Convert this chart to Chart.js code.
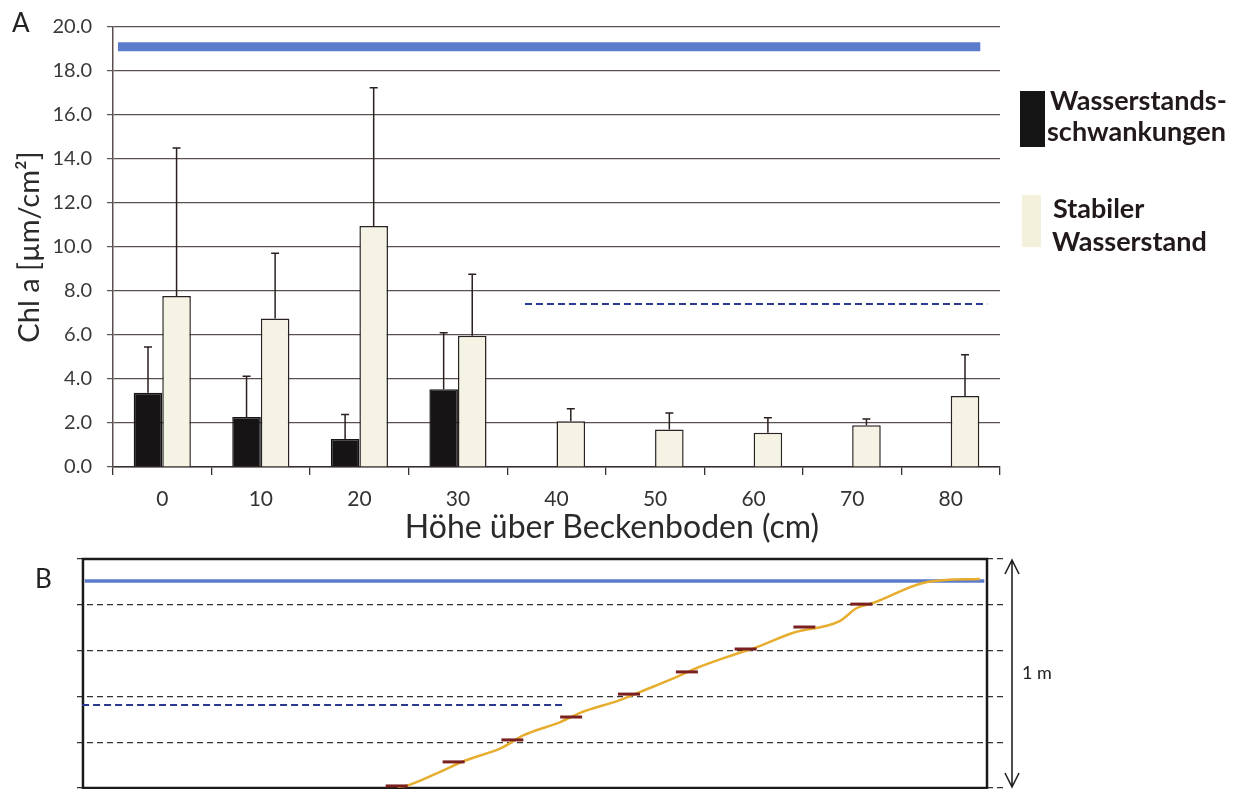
<!DOCTYPE html>
<html><head><meta charset="utf-8">
<script src="https://cdn.jsdelivr.net/npm/chart.js@4.4.1/dist/chart.umd.min.js"></script>
<style>
html,body{margin:0;padding:0;background:#fff;overflow:hidden}
#wrap{position:relative;width:1247px;height:789px;background:#fff}
canvas{position:absolute;left:0}
</style></head><body>
<div id="wrap">
<canvas id="ca" width="1247" height="545" style="top:0"></canvas>
<canvas id="cb" width="1247" height="244" style="top:545px"></canvas>
</div>
<script>
// ---------- Panel A data ----------
const categories = ['0','10','20','30','40','50','60','70','80'];
const fluctMean  = [3.38, 2.27, 1.27, 3.53, null, null, null, null, null];
const fluctSd    = [2.07, 1.86, 1.12, 2.57, null, null, null, null, null];
const stableMean = [7.77, 6.75, 10.95, 5.97, 2.08, 1.70, 1.56, 1.90, 3.23];
const stableSd   = [6.73, 2.97, 6.29, 2.79, 0.57, 0.75, 0.68, 0.28, 1.87];
const seriesNames = ['Wasserstands-|schwankungen', 'Stabiler|Wasserstand'];
// reference lines in panel A (x in category widths from the left edge)
const fullLevelA = [{x:0.05, y:19.1}, {x:8.8, y:19.1}];
const lowLevelA  = [{x:4.18, y:7.41}, {x:8.87, y:7.41}];

// ---------- Panel B data (x: time units 0-100, y: cm) ----------
const waterLevel = [
  {x:34.8,y:0.5},{x:35.8,y:1},{x:39.2,y:6.5},{x:42.3,y:12},{x:46.3,y:17.5},
  {x:48.7,y:23},{x:52.8,y:28.8},{x:55.0,y:32.8},{x:59.4,y:38.4},{x:61.6,y:41.9},
  {x:65.7,y:48.5},{x:67.9,y:52.4},{x:71.9,y:58.1},{x:74.6,y:61.6},{x:78.5,y:67.7},
  {x:83.7,y:72.9},{x:85.6,y:78.6},{x:87.4,y:80.8},{x:93.4,y:90},{x:99.2,y:91.3}
];
const stepMarks = [
  {x:34.7,y:0.9},{x:41.0,y:11.4},{x:47.5,y:21.0},{x:54.0,y:31.0},{x:60.4,y:41.0},
  {x:66.8,y:50.7},{x:73.3,y:60.7},{x:79.8,y:70.3},{x:86.1,y:80.3}
];
const fullLevelB = [{x:0.2,y:90.4},{x:99.7,y:90.4}];
const lowLevelB  = [{x:-0.1,y:36.2},{x:53,y:36.2}];

Chart.defaults.font.family = 'Lato, "Open Sans", sans-serif';
Chart.defaults.color = '#333';

const errorBars = {
  id:'errorBars',
  afterDatasetsDraw(chart){
    const ctx = chart.ctx, ys = chart.scales.y;
    chart.data.datasets.forEach((ds,i)=>{
      if(!ds.errors) return;
      const meta = chart.getDatasetMeta(i);
      meta.data.forEach((bar,j)=>{
        const m = ds.data[j], e = ds.errors[j];
        if(m==null || e==null) return;
        const yTop = ys.getPixelForValue(m+e);
        ctx.save();
        ctx.strokeStyle = '#2b2020'; ctx.lineWidth = 1.5;
        ctx.beginPath();
        ctx.moveTo(bar.x, bar.y); ctx.lineTo(bar.x, yTop);
        ctx.moveTo(bar.x-4, yTop); ctx.lineTo(bar.x+4, yTop);
        ctx.stroke();
        ctx.restore();
      });
    });
  }
};

// reference level lines drawn through the chart's own scales
const refLines = {
  id:'refLines',
  beforeDatasetsDraw(chart){
    const ctx = chart.ctx, xs = chart.scales.xl, ys = chart.scales.y;
    const draw = (pts, color, width, dash) => {
      ctx.save();
      ctx.strokeStyle = color; ctx.lineWidth = width; ctx.setLineDash(dash);
      ctx.beginPath();
      pts.forEach((p,k)=>{
        const px = xs.getPixelForValue(p.x), py = ys.getPixelForValue(p.y);
        if(k===0) ctx.moveTo(px,py); else ctx.lineTo(px,py);
      });
      ctx.stroke();
      ctx.restore();
    };
    draw(fullLevelA, '#5b7bcb', 9, []);
    draw(lowLevelA, '#2b3990', 2, [7,4]);
  }
};

const decorA = {
  id:'decorA',
  afterDraw(chart){
    const ctx = chart.ctx;
    ctx.save();
    ctx.fillStyle = '#222';
    ctx.textBaseline = 'alphabetic';
    ctx.font = '26px Lato, sans-serif';
    ctx.fillText('A', 12, 32);
    // x title
    ctx.font = '32px Lato, sans-serif';
    ctx.textAlign = 'center';
    ctx.fillStyle = '#2a2a2a';
    ctx.fillText('Höhe über Beckenboden (cm)', 612, 538);
    // legend
    ctx.textAlign = 'left';
    ctx.fillStyle = '#141414';
    ctx.fillRect(1020, 91, 25, 56);
    ctx.fillStyle = '#f3f1dc';
    ctx.fillRect(1022, 195, 19, 52);
    ctx.fillStyle = '#221a1a';
    ctx.font = 'bold 27px Lato, sans-serif';
    const l1 = seriesNames[0].split('|'), l2 = seriesNames[1].split('|');
    ctx.fillText(l1[0], 1050, 110);
    ctx.fillText(l1[1], 1047, 141);
    ctx.fillText(l2[0], 1053, 218);
    ctx.fillText(l2[1], 1052, 251);
    ctx.restore();
  }
};

new Chart(document.getElementById('ca'), {
  type:'bar',
  data:{
    labels: categories,
    datasets:[
      {label:'Wasserstandsschwankungen', data:fluctMean, errors:fluctSd,
       backgroundColor:'#161414', borderColor:'#161414', borderWidth:1.5,
       categoryPercentage:0.58, barPercentage:1.0},
      {label:'Stabiler Wasserstand', data:stableMean, errors:stableSd,
       backgroundColor:'#f5f3e4', borderColor:'#2a2222', borderWidth:1.5,
       categoryPercentage:0.58, barPercentage:1.0}
    ]
  },
  options:{
    responsive:false, animation:false,
    layout:{autoPadding:false, padding:{left:0, right:247, top:21.5, bottom:0}},
    plugins:{legend:{display:false}, tooltip:{enabled:false}},
    scales:{
      x:{
        type:'category',
        afterFit(s){ s.height = 78; },
        grid:{display:true, offset:true, drawOnChartArea:false, drawTicks:true, tickLength:8, color:'#3a3030', lineWidth:1.3},
        border:{display:true, color:'#3a3030', width:1.5},
        ticks:{font:{size:21}, color:'#333', padding:12}
      },
      xl:{type:'linear', display:false, min:0, max:9, offset:false},
      y:{
        min:0, max:20,
        afterFit(s){ s.width = 113; },
        ticks:{stepSize:2, font:{size:20}, color:'#3a3a3a', padding:15,
               callback:v=>v.toFixed(1)},
        grid:{color:'#5c4f4f', lineWidth:1.2, tickLength:6},
        border:{display:true, color:'#5c4f4f', width:1.5},
        title:{display:true, text:'Chl a [µm/cm²]', font:{size:29}, color:'#2a2a2a', padding:{top:12}}
      }
    }
  },
  plugins:[refLines, errorBars, decorA]
});

const decorB = {
  id:'decorB',
  beforeDatasetsDraw(chart){
    const ctx = chart.ctx, xs = chart.scales.x, ys = chart.scales.y;
    const x0 = xs.getPixelForValue(0), x1 = xs.getPixelForValue(100);
    const y0 = ys.getPixelForValue(0), y1 = ys.getPixelForValue(100);
    ctx.save();
    ctx.strokeStyle = '#1a1a1a'; ctx.lineWidth = 2.5;
    ctx.strokeRect(x0, y1, x1-x0, y0-y1);
    ctx.restore();
  },
  afterDraw(chart){
    const ctx = chart.ctx, ys = chart.scales.y;
    const top = ys.getPixelForValue(100)+1, bot = ys.getPixelForValue(0)-1;
    const ax = 1012;
    ctx.save();
    ctx.strokeStyle = '#222'; ctx.lineWidth = 1.6;
    ctx.beginPath();
    ctx.moveTo(ax, top); ctx.lineTo(ax, bot);
    ctx.moveTo(ax-7, top+14); ctx.lineTo(ax, top); ctx.lineTo(ax+7, top+14);
    ctx.moveTo(ax-7, bot-14); ctx.lineTo(ax, bot); ctx.lineTo(ax+7, bot-14);
    ctx.stroke();
    ctx.fillStyle = '#222';
    ctx.font = '18px Lato, sans-serif';
    ctx.textBaseline = 'middle';
    ctx.fillText('1 m', 1022, ys.getPixelForValue(50));
    ctx.font = '26px Lato, sans-serif';
    ctx.textBaseline = 'alphabetic';
    ctx.fillText('B', 35, 43);
    ctx.restore();
  }
};

new Chart(document.getElementById('cb'), {
  type:'line',
  data:{
    datasets:[
      {label:'marks', type:'scatter', data:stepMarks, pointStyle:'line', pointRadius:11,
       borderColor:'#7a2020', borderWidth:3, backgroundColor:'#7a2020', order:0},
      {label:'level', data:waterLevel, borderColor:'#e6ad2e', borderWidth:2.5,
       pointRadius:0, cubicInterpolationMode:'monotone', order:1},
      {label:'full', data:fullLevelB, borderColor:'#5b7bcb', borderWidth:3.5, pointRadius:0, order:2},
      {label:'low', data:lowLevelB, borderColor:'#2b3990', borderWidth:2, borderDash:[7,4], pointRadius:0, order:2}
    ]
  },
  options:{
    responsive:false, animation:false,
    layout:{autoPadding:false, padding:{left:77, right:244, top:14, bottom:1}},
    plugins:{legend:{display:false}, tooltip:{enabled:false}},
    scales:{
      x:{type:'linear', display:false, min:-0.66, max:101.77},
      y:{
        type:'linear', min:0, max:100,
        afterFit(s){ s.width = 0; },
        ticks:{display:false, stepSize:20},
        grid:{color:'#333', lineWidth:1.3, drawTicks:false},
        border:{display:false, dash:[6,4]}
      }
    }
  },
  plugins:[decorB]
});
</script>
</body></html>
